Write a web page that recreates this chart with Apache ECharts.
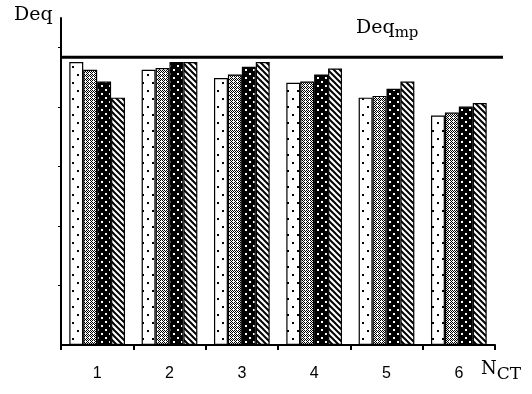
<!DOCTYPE html>
<html>
<head>
<meta charset="utf-8">
<script src="https://cdn.jsdelivr.net/npm/echarts@6/dist/echarts.min.js"></script>
<style>html,body{margin:0;padding:0;background:#fff}#c{width:532px;height:394px}</style>
</head>
<body>
<div id="c"></div>
<script>
var categories = ['1', '2', '3', '4', '5', '6'];
var series1 = [4.76, 4.63, 4.49, 4.41, 4.16, 3.86];
var series2 = [4.63, 4.66, 4.55, 4.43, 4.19, 3.91];
var series3 = [4.43, 4.76, 4.68, 4.55, 4.31, 4.01];
var series4 = [4.16, 4.76, 4.76, 4.65, 4.43, 4.07];
var deqMp = 4.84;
var yTicks = [1, 2, 3, 4, 5];

function makePattern(w, h, draw) {
  var c = document.createElement('canvas');
  c.width = w; c.height = h;
  var ctx = c.getContext('2d');
  draw(ctx, w, h);
  return { image: c, repeat: 'repeat' };
}
var pDots = makePattern(10, 16, function (ctx, w, h) {
  ctx.fillStyle = '#fff'; ctx.fillRect(0, 0, w, h);
  ctx.fillStyle = '#000';
  ctx.fillRect(2, 2, 2, 2);
  ctx.fillRect(7, 10, 2, 2);
});
var pGrey = makePattern(4, 4, function (ctx, w, h) {
  ctx.fillStyle = '#fff'; ctx.fillRect(0, 0, w, h);
  ctx.fillStyle = '#000';
  for (var y = 0; y < h; y++) for (var x = 0; x < w; x++) {
    if ((x + y) % 2 === 0) ctx.fillRect(x, y, 1, 1);
  }
  ctx.fillStyle = '#fff';
  ctx.fillRect(1, 1, 1, 1);
});
var pBlack = makePattern(8, 8, function (ctx, w, h) {
  ctx.fillStyle = '#000'; ctx.fillRect(0, 0, w, h);
  ctx.fillStyle = '#fff';
  ctx.fillRect(1, 1, 2, 2);
  ctx.fillRect(5, 5, 2, 2);
});
var pHatch = makePattern(6, 6, function (ctx, w, h) {
  ctx.fillStyle = '#fff'; ctx.fillRect(0, 0, w, h);
  ctx.strokeStyle = '#000'; ctx.lineWidth = 2;
  ctx.beginPath();
  ctx.moveTo(-1, -1); ctx.lineTo(w + 1, h + 1);
  ctx.moveTo(-4, 2); ctx.lineTo(2, 8);
  ctx.moveTo(4, -2); ctx.lineTo(8, 2);
  ctx.stroke();
});

function barSeries(name, data, pat) {
  return {
    name: name, type: 'bar', data: data, xAxisIndex: 0, yAxisIndex: 0,
    barGap: '0%', barCategoryGap: '23%',
    itemStyle: { color: pat, borderColor: '#000', borderWidth: 1.2 },
    silent: true
  };
}

var chart = echarts.init(document.getElementById('c'), null, { renderer: 'canvas' });
chart.setOption({
  animation: false,
  backgroundColor: '#fff',
  grid: [
    { left: 61, right: 37, top: 18, bottom: 49 },
    { left: 61, right: 29, top: 18, bottom: 49 }
  ],
  xAxis: [
    {
      type: 'category', gridIndex: 0, data: categories,
      axisLine: { lineStyle: { color: '#000', width: 2 } },
      axisTick: { show: true, length: 5, lineStyle: { color: '#000', width: 2 } },
      axisLabel: { color: '#000', fontFamily: 'Liberation Sans', fontSize: 16, margin: 21 }
    },
    { type: 'value', gridIndex: 1, min: 0, max: 1, show: false }
  ],
  yAxis: [
    {
      type: 'value', gridIndex: 0, min: 0, max: 5.5,
      axisLine: { show: true, lineStyle: { color: '#000', width: 2 } },
      axisTick: { show: true, length: 3, customValues: yTicks, lineStyle: { color: '#000', width: 1 } },
      axisLabel: { show: false },
      splitLine: { show: false }
    },
    { type: 'value', gridIndex: 1, min: 0, max: 5.5, show: false }
  ],
  series: [
    barSeries('s1', series1, pDots),
    barSeries('s2', series2, pGrey),
    barSeries('s3', series3, pBlack),
    barSeries('s4', series4, pHatch),
    {
      type: 'line', xAxisIndex: 1, yAxisIndex: 1, symbol: 'none', silent: true,
      data: [[0, deqMp], [1, deqMp]],
      lineStyle: { color: '#000', width: 3 }
    }
  ],
  graphic: [
    { type: 'text', left: 14, top: 6, style: { text: 'Deq', fontFamily: 'DejaVu Serif', fontSize: 19, fontWeight: 'normal', fill: '#000' } },
    { type: 'text', left: 356, top: 19, style: {
        text: '{a|Deq}{b|mp}', fill: '#000',
        rich: { a: { fontFamily: 'DejaVu Serif', fontSize: 19, color: '#000' },
                b: { fontFamily: 'DejaVu Serif', fontSize: 15, color: '#000', padding: [10, 0, 0, 0] } }
      } },
    { type: 'text', left: 481, top: 360, style: {
        text: '{a|N}{b|CT}', fill: '#000',
        rich: { a: { fontFamily: 'DejaVu Serif', fontSize: 18, color: '#000' },
                b: { fontFamily: 'DejaVu Serif', fontSize: 17, color: '#000', padding: [11, 0, 0, 0] } }
      } }
  ]
});
</script>
</body>
</html>
